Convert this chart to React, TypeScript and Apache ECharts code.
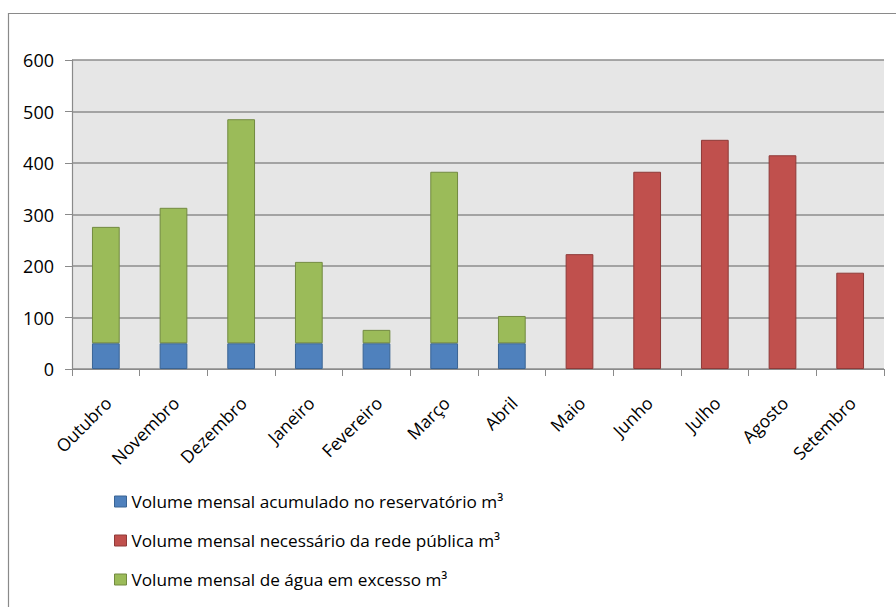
import React, { useEffect, useRef } from "react";
import * as echarts from "echarts";

const categories = ["Outubro", "Novembro", "Dezembro", "Janeiro", "Fevereiro", "Março", "Abril", "Maio", "Junho", "Julho", "Agosto", "Setembro"];
const acumulado = [50, 50, 50, 50, 50, 50, 50, null, null, null, null, null];
const excesso = [226, 263, 435, 158, 26, 333, 53, null, null, null, null, null];
const necessario = [null, null, null, null, null, null, null, 223, 383, 445, 415, 187];
const yTicks = { min: 0, max: 600, interval: 100 };
const names = [
  "Volume mensal acumulado no reservatório m³",
  "Volume mensal necessário da rede pública m³",
  "Volume mensal de água em excesso m³",
];

const FONT = "'Open Sans', sans-serif";

export default function App() {
  const ref = useRef<HTMLDivElement>(null);
  useEffect(() => {
    const chart = echarts.init(ref.current!, null, { renderer: "svg" });
    const blue = { color: "#4f81bd", borderColor: "#3a6494", borderWidth: 1 };
    const red = { color: "#c0504d", borderColor: "#8f3a38", borderWidth: 1 };
    const green = { color: "#9bbb59", borderColor: "#728a40", borderWidth: 1 };
    chart.setOption({
      animation: false,
      backgroundColor: "#ffffff",
      graphic: [
        {
          type: "rect",
          shape: { x: 8.5, y: 13.5, width: 900, height: 620 },
          style: { fill: "none", stroke: "#8a8a8a", lineWidth: 1.2 },
          silent: true,
        },
      ],
      grid: {
        left: 72,
        right: 12,
        top: 60,
        bottom: 238,
        show: true,
        backgroundColor: "#e6e6e6",
        borderWidth: 0,
      },
      legend: {
        orient: "vertical",
        left: 109,
        top: 488,
        itemWidth: 12,
        itemHeight: 11,
        itemGap: 22,
        icon: "rect",
        textStyle: { fontFamily: FONT, fontSize: 17.2, color: "#000" },
        data: [
          { name: names[0], itemStyle: blue },
          { name: names[1], itemStyle: red },
          { name: names[2], itemStyle: green },
        ],
      },
      xAxis: {
        type: "category",
        data: categories,
        axisLine: { lineStyle: { color: "#8a8a8a", width: 1.2 } },
        axisTick: { show: true, length: 7, lineStyle: { color: "#8a8a8a" } },
        axisLabel: {
          rotate: 45,
          interval: 0,
          margin: 20,
          align: "right",
          verticalAlign: "top",
          padding: [0, 6, 0, 0],
          fontFamily: FONT,
          fontSize: 17.5,
          color: "#000",
        },
      },
      yAxis: {
        type: "value",
        min: yTicks.min,
        max: yTicks.max,
        interval: yTicks.interval,
        axisLine: { show: true, lineStyle: { color: "#8a8a8a", width: 1.2 } },
        axisTick: { show: true, length: 7, lineStyle: { color: "#8a8a8a" } },
        axisLabel: { fontFamily: FONT, fontSize: 18, color: "#000", margin: 18 },
        splitLine: { lineStyle: { color: "#8c8c8c", width: 1.5 } },
      },
      series: [
        { name: names[0], type: "bar", stack: "v", barWidth: "41%", data: acumulado, itemStyle: blue },
        { name: names[2], type: "bar", stack: "v", barWidth: "41%", data: excesso, itemStyle: green },
        { name: names[1], type: "bar", stack: "v", barWidth: "41%", data: necessario, itemStyle: red },
      ],
    });
    return () => chart.dispose();
  }, []);
  return (
    <div
      ref={ref}
      style={{ position: "fixed", left: 0, top: 0, width: 896, height: 607 }}
    />
  );
}
